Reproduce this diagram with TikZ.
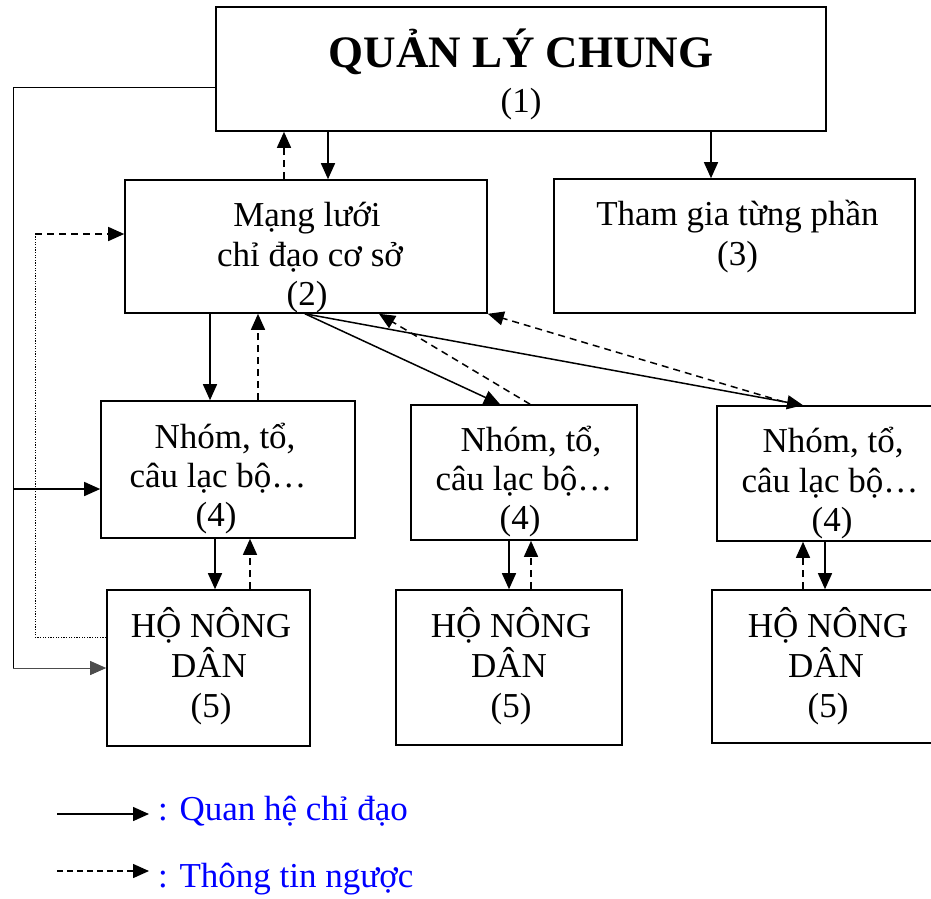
\documentclass[tikz,border=0pt]{standalone}
\usepackage{fontspec}
\setmainfont{Liberation Serif}
\usetikzlibrary{arrows.meta}
\begin{document}
\begin{tikzpicture}[x=1pt,y=-1pt,
  box/.style={draw, line width=1.6pt, inner sep=0pt},
  txt/.style={anchor=base, inner sep=0pt, font=\fontsize{35}{40}\selectfont},
  ttl/.style={anchor=base, inner sep=0pt, font=\fontsize{45}{50}\selectfont\bfseries},
  lgd/.style={anchor=base west, inner sep=0pt, text={rgb,255:red,0;green,0;blue,255}, font=\fontsize{35}{40}\selectfont},
  tip/.style={-{Triangle[length=16pt,width=14pt]}},
  lead/.style={tip, line width=1.5pt},
  fb/.style={tip, line width=1.5pt, dash pattern=on 7pt off 5pt},
  thinl/.style={line width=0.9pt},
  dotl/.style={line width=0.9pt, dash pattern=on 1.3pt off 1.3pt}]
\useasboundingbox (0,0) rectangle (931,898);

% boxes
\node[box, minimum width=610pt, minimum height=124pt] (b1) at (521,69) {};
\node[box, minimum width=362pt, minimum height=133pt] (b2) at (306,246.5) {};
\node[box, minimum width=361pt, minimum height=134pt] (b3) at (734.5,246) {};
\node[box, minimum width=254pt, minimum height=137pt] (b4a) at (228,469.5) {};
\node[box, minimum width=226pt, minimum height=135pt] (b4b) at (524,472.5) {};
\node[box, minimum width=233pt, minimum height=135pt] (b4c) at (833.5,473.5) {};
\node[box, minimum width=203pt, minimum height=156pt] (b5a) at (208.5,668) {};
\node[box, minimum width=226pt, minimum height=155pt] (b5b) at (509,667.5) {};
\node[box, minimum width=238pt, minimum height=153pt] (b5c) at (831,666.5) {};

% texts
\node[ttl] (t1a) at (521,67) {QUẢN LÝ CHUNG};
\node[txt] (t1b) at (521,112) {(1)};
\node[txt] (t2a) at (307,226) {Mạng lưới};
\node[txt] (t2b) at (310,266) {chỉ đạo cơ sở};
\node[txt] (t2c) at (307,305) {(2)};
\node[txt] (t3a) at (737.5,225) {Tham gia từng phần};
\node[txt] (t3b) at (737.5,265) {(3)};
\node[txt] (t4aa) at (225,448) {Nhóm, tổ,};
\node[txt] (t4ab) at (218,487) {câu lạc bộ…};
\node[txt] (t4ac) at (216,526) {(4)};
\node[txt] (t4ba) at (531,451) {Nhóm, tổ,};
\node[txt] (t4bb) at (524,490) {câu lạc bộ…};
\node[txt] (t4bc) at (520,529) {(4)};
\node[txt] (t4ca) at (833,452) {Nhóm, tổ,};
\node[txt] (t4cb) at (830,492) {câu lạc bộ…};
\node[txt] (t4cc) at (832,531) {(4)};
\node[txt] (t5aa) at (211,637) {HỘ NÔNG};
\node[txt] (t5ab) at (209,677) {DÂN};
\node[txt] (t5ac) at (211,717) {(5)};
\node[txt] (t5ba) at (511,637) {HỘ NÔNG};
\node[txt] (t5bb) at (509,677) {DÂN};
\node[txt] (t5bc) at (511,717) {(5)};
\node[txt] (t5ca) at (828,637) {HỘ NÔNG};
\node[txt] (t5cb) at (826,677) {DÂN};
\node[txt] (t5cc) at (828,717) {(5)};

% vertical connectors
\draw[fb] (b2.north -| 284,0) -- (b1.south -| 284,0);
\draw[lead] (b1.south -| 328,0) -- (b2.north -| 328,0);
\draw[lead] (b1.south -| 711,0) -- (b3.north -| 711,0);
\draw[lead] (b2.south -| 210,0) -- (b4a.north -| 210,0);
\draw[fb] (b4a.north -| 258,0) -- (b2.south -| 258,0);
\draw[lead] (b4a.south -| 215,0) -- (b5a.north -| 215,0);
\draw[fb] (b5a.north -| 250,0) -- (b4a.south -| 250,0);
\draw[lead] (b4b.south -| 509,0) -- (b5b.north -| 509,0);
\draw[fb] (b5b.north -| 531,0) -- (b4b.south -| 531,0);
\draw[fb] (b5c.north -| 803,0) -- (b4c.south -| 803,0);
\draw[lead] (b4c.south -| 825,0) -- (b5c.north -| 825,0);

% diagonal connectors
\draw[lead] (b2.south -| 305,0) -- (b4b.north -| 500,0);
\draw[lead] (b2.south -| 305,0) -- (b4c.north -| 803,0);
\draw[fb] (b4b.north -| 530,0) -- (b2.south -| 379,0);
\draw[fb] (b4c.north -| 795,0) -- (b2.south east);

% left side lines
\coordinate (Ltop) at (13,87);
\coordinate (Lmid) at (13,489);
\coordinate (Lbot) at (13,668);
\draw[thinl] (b1.west |- Ltop) -- (Ltop) -- (Lbot);
\draw[thinl, tip, draw=black!70] (Lbot) -- (b5a.west |- Lbot);
\draw[lead] (Lmid) -- (b4a.west |- Lmid);
\coordinate (Dbot) at (35,637);
\coordinate (Dtop) at (35,234);
\draw[dotl] (b5a.west |- Dbot) -- (Dbot) -- (Dtop);
\draw[fb] (Dtop) -- (b2.west |- Dtop);

% legend
\coordinate (g1s) at (57,814);
\coordinate (g1e) at (149,814);
\coordinate (g2s) at (57,871);
\coordinate (g2e) at (149,871);
\node[lgd] (lg1) at (158,820) {: Quan hệ chỉ đạo};
\node[lgd] (lg2) at (158,887) {: Thông tin ngược};
\draw[lead] (g1s) -- (g1e);
\draw[fb, dash pattern=on 6pt off 4pt] (g2s) -- (g2e);
\end{tikzpicture}
\end{document}
